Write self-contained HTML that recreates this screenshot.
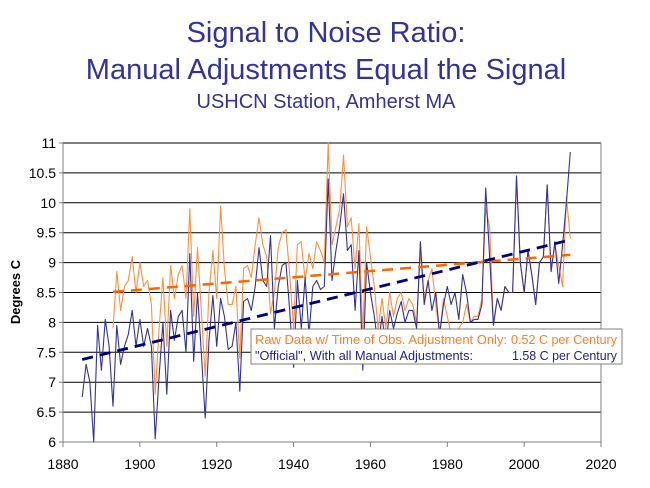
<!DOCTYPE html>
<html><head><meta charset="utf-8"><style>
body{margin:0;background:#fff;}
svg{display:block;font-family:"Liberation Sans",sans-serif;}
</style></head><body>
<svg id="s" width="650" height="488" viewBox="0 0 650 488">
<text x="326" y="42" text-anchor="middle" font-size="29" fill="#333399">Signal to Noise Ratio:</text>
<text x="326" y="79" text-anchor="middle" font-size="29" fill="#333399">Manual Adjustments Equal the Signal</text>
<text x="326" y="108" text-anchor="middle" font-size="20" fill="#333399">USHCN Station, Amherst MA</text>
<g id="grid"></g>
<g id="data"></g>
<text transform="translate(20,292) rotate(-90)" text-anchor="middle" font-size="13" font-weight="bold">Degrees C</text>
<rect x="251" y="329" width="371" height="35" fill="#fff" stroke="#808080" stroke-width="1"/>
<text x="255" y="344" font-size="12.5" fill="#FF7F27" textLength="252" lengthAdjust="spacingAndGlyphs">Raw Data w/ Time of Obs. Adjustment Only:</text>
<text x="511" y="344" font-size="12.5" fill="#FF7F27" textLength="106" lengthAdjust="spacingAndGlyphs">0.52 C per Century</text>
<text x="255" y="360" font-size="12.5" fill="#1F1F8F" textLength="218" lengthAdjust="spacingAndGlyphs">"Official", With all Manual Adjustments:</text>
<text x="512" y="360" font-size="12.5" fill="#1F1F8F" textLength="105" lengthAdjust="spacingAndGlyphs">1.58 C per Century</text>
</svg>
<script>
var X=function(y){return 63+(y-1880)*3.843;},Y=function(v){return 442-(v-6)*59.8;};
var g='',i;
for(i=0;i<=10;i++){var v=6+i*0.5,y=Y(v);g+='<line x1="63" x2="601" y1="'+y+'" y2="'+y+'" stroke="#000" stroke-width="1"/>';
g+='<line x1="59" x2="63" y1="'+y+'" y2="'+y+'" stroke="#808080"/>';
g+='<text x="56" y="'+(y+5)+'" font-size="14" text-anchor="end">'+v+'</text>';}
g+='<line x1="63" x2="63" y1="143" y2="442" stroke="#808080"/><line x1="601" x2="601" y1="143" y2="442" stroke="#808080"/><line x1="63" x2="601" y1="442" y2="442" stroke="#808080"/>';
for(i=0;i<=7;i++){var yr=1880+i*20,x=X(yr);g+='<line x1="'+x+'" x2="'+x+'" y1="442" y2="447" stroke="#808080"/><text x="'+x+'" y="469" font-size="14" text-anchor="middle">'+yr+'</text>';}
document.getElementById('grid').innerHTML=g;
var b=[6.75,7.3,7.0,6.0,7.95,7.2,8.05,7.6,6.6,7.95,7.3,7.6,7.8,8.2,7.6,8.05,7.6,7.9,7.6,6.05,7.1,8.0,6.8,8.2,7.7,8.1,8.2,7.5,9.15,7.35,8.5,7.5,6.4,7.7,8.45,7.6,8.4,8.1,7.55,7.6,8.0,6.85,8.35,8.4,8.2,8.6,9.25,8.7,8.6,9.45,7.9,8.6,8.95,9.0,8.2,7.25,8.7,7.9,8.75,7.8,8.6,8.7,8.55,8.6,10.4,8.7,9.2,9.6,10.15,9.2,9.3,8.2,9.2,7.2,9.0,8.5,8.1,7.6,8.1,7.6,8.2,7.9,8.15,8.35,8.0,8.2,8.2,7.9,9.35,8.3,8.7,8.2,8.5,7.8,8.3,8.6,8.3,8.5,8.05,8.8,8.5,8.0,8.05,8.05,8.3,10.25,9.1,7.95,8.4,8.2,8.6,8.5,8.5,10.45,9.0,8.5,9.2,8.8,8.3,9.0,9.1,10.3,8.85,9.35,8.65,9.3,10.0,10.85];
var o=[7.9,8.85,8.2,8.6,8.7,9.1,8.5,9.0,8.6,8.7,8.3,6.8,7.9,8.75,7.6,8.95,8.4,8.8,8.95,8.4,9.9,8.1,9.25,8.2,7.1,8.5,9.2,8.4,9.95,8.9,8.3,8.3,8.6,7.4,8.9,8.95,8.75,9.3,9.75,9.3,9.1,8.15,8.5,9.25,9.5,9.55,8.8,7.9,9.3,9.35,8.7,9.15,8.9,9.35,9.2,9.0,11.0,9.3,9.6,9.9,10.8,9.6,9.75,8.9,9.65,7.8,9.6,9.1,8.6,7.9,8.4,7.9,8.5,8.1,8.4,8.5,8.2,8.4,8.3,8.0,9.2,8.4,8.7,8.9,8.3,7.8,8.4,8.1,7.8,7.8,7.9,8.0,8.3,8.0,8.1,8.1,8.4,9.9,9.6,8.0,8.4,8.2,8.6,8.5,8.5,10.4,9.0,8.5,9.2,8.8,8.3,9.0,9.1,10.3,8.85,9.3,8.95,8.6,10.1,9.4];
function pl(a,s,c){var p=[];for(var k=0;k<a.length;k++)p.push(X(s+k).toFixed(1)+','+Y(a[k]).toFixed(1));return '<polyline fill="none" stroke="'+c+'" stroke-width="1.1" stroke-linejoin="round" points="'+p.join(' ')+'"/>';}
var d=pl(o,1893,'#FF9040')+pl(b,1885,'#333399');
d+='<line x1="'+X(1893)+'" y1="'+Y(8.51)+'" x2="'+X(2012)+'" y2="'+Y(9.13)+'" stroke="#FF6600" stroke-width="2.5" stroke-dasharray="11,7"/>';
d+='<line x1="'+X(1885)+'" y1="'+Y(7.38)+'" x2="'+X(2012)+'" y2="'+Y(9.38)+'" stroke="#000080" stroke-width="2.8" stroke-dasharray="11,7"/>';
document.getElementById('data').innerHTML=d;
</script>
</body></html>
